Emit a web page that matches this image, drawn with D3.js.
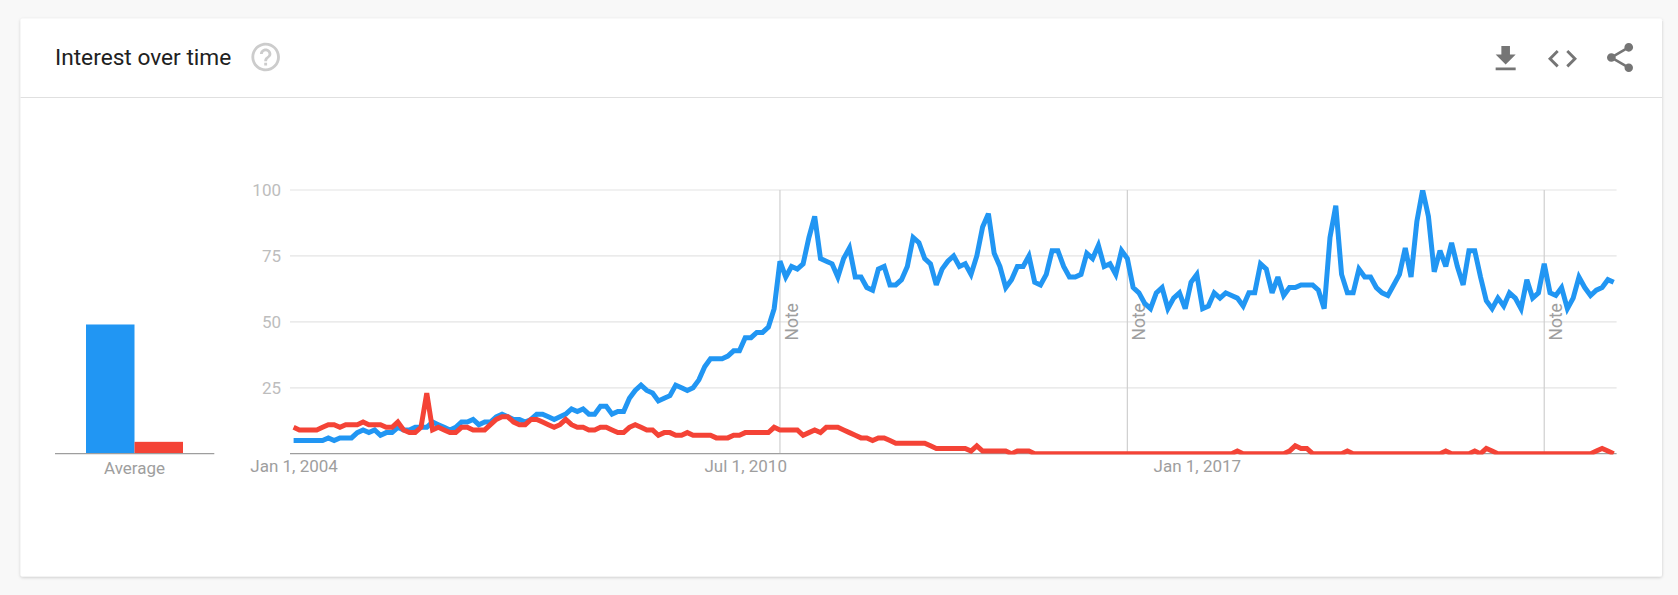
<!DOCTYPE html>
<html>
<head>
<meta charset="utf-8">
<script src="https://cdn.jsdelivr.net/npm/d3@7"></script>
<style>
html,body{margin:0;padding:0;background:#f8f8f8;overflow:hidden}
svg{display:block;font-family:Roboto,sans-serif}
.domain{display:none}
</style>
</head>
<body>
<div id="chart"></div>
<script>
const blueValues = [
5,5,5,5,5,5,6,5,6,6,
6,8,9,8,9,7,8,8,10,9,
9,10,10,10,12,11,10,9,10,12,
12,13,11,12,12,14,15,14,13,13,
12,13,15,15,14,13,14,15,17,16,
17,15,15,18,18,15,16,16,21,24,
26,24,23,20,21,22,26,25,24,25,
28,33,36,36,36,37,39,39,44,44,
46,46,48,55,73,67,71,70,72,82,
90,74,73,72,67,74,78,67,67,63,
62,70,71,64,64,66,71,82,80,74,
72,64,70,73,75,71,72,68,75,86,
91,76,71,63,66,71,71,75,65,64,
68,77,77,71,67,67,68,76,74,79,
71,72,68,77,74,63,61,57,55,61,
63,55,59,61,55,65,68,55,56,61,
59,61,60,59,56,61,61,72,70,61,
67,60,63,63,64,64,64,62,55,82,
94,68,61,61,70,67,67,63,61,60,
64,68,78,67,88,100,90,69,77,71,
80,71,64,77,77,67,58,55,59,56,
61,59,55,66,59,61,72,61,60,63,
55,59,67,63,60,62,63,66,65];
const redValues = [
10,9,9,9,9,10,11,11,10,11,
11,11,12,11,11,11,10,10,12,9,
8,8,10,23,9,10,9,8,8,10,
10,9,9,9,11,13,14,14,12,11,
11,13,13,12,11,10,11,13,11,10,
10,9,9,10,10,9,8,8,10,11,
10,9,9,7,8,8,7,7,8,7,
7,7,7,6,6,6,7,7,8,8,
8,8,8,10,9,9,9,9,7,8,
9,8,10,10,10,9,8,7,6,6,
5,6,6,5,4,4,4,4,4,4,
3,2,2,2,2,2,2,1,3,1,
1,1,1,1,0,1,1,1,0,0,
0,0,0,0,0,0,0,0,0,0,
0,0,0,0,0,0,0,0,0,0,
0,0,0,0,0,0,0,0,0,0,
0,0,0,1,0,0,0,0,0,0,
0,0,1,3,2,2,0,0,0,0,
0,0,1,0,0,0,0,0,0,0,
0,0,0,0,0,0,0,0,0,1,
0,0,0,0,1,0,2,1,0,0,
0,0,0,0,0,0,0,0,0,0,
0,0,0,0,0,1,2,1,0];
const averageNames = ["blue","red"];
const averageValues = [49,4.5];
const yTicks = [25,50,75,100];
const xTickMonths = [0,78,156];
const xTickLabels = ["Jan 1, 2004","Jul 1, 2010","Jan 1, 2017"];
const noteMonths = [84,144,216];
const BLUE="#2196f3", RED="#f44336";

const W=1678,H=595;
const svg=d3.select("#chart").append("svg").attr("width",W).attr("height",H);
const defs=svg.append("defs");
const f=defs.append("filter").attr("id","sh").attr("x","-2%").attr("y","-2%").attr("width","104%").attr("height","104%");
f.append("feDropShadow").attr("dx",0).attr("dy",1).attr("stdDeviation",1.5).attr("flood-color","#000").attr("flood-opacity",0.2);
svg.append("rect").attr("x",20.5).attr("y",18.5).attr("width",1641.5).attr("height",558).attr("rx",2).attr("fill","#fff").attr("filter","url(#sh)");
svg.append("line").attr("x1",20.5).attr("x2",1662).attr("y1",97.5).attr("y2",97.5).attr("stroke","#e0e0e0").attr("stroke-width",1.2);

svg.append("text").attr("x",55).attr("y",65).attr("font-size",22.7).attr("fill","#212121").text("Interest over time");

const icon=(d,tx,ty,s,fill)=>svg.append("path").attr("d",d).attr("transform",`translate(${tx},${ty}) scale(${s})`).attr("fill",fill);
icon("M11 18h2v-2h-2v2zm1-16C6.48 2 2 6.48 2 12s4.48 10 10 10 10-4.48 10-10S17.52 2 12 2zm0 18c-4.41 0-8-3.59-8-8s3.59-8 8-8 8 3.59 8 8-3.59 8-8 8zm0-14c-2.21 0-4 1.79-4 4h2c0-1.1.9-2 2-2s2 .9 2 2c0 2-3 1.75-3 5h2c0-2.25 3-2.5 3-5 0-2.21-1.79-4-4-4z",248.5,39.8,1.43,"#cccccc");
icon("M19 9h-4V3H9v6H5l7 7 7-7zM5 18v2h14v-2H5z",1488.5,41.7,1.43,"#757575");
icon("M9.4 16.6L4.8 12l4.6-4.6L8 6l-6 6 6 6 1.4-1.4zm5.2 0l4.6-4.6-4.6-4.6L16 6l6 6-6 6-1.4-1.4z",1545.1,41.3,1.45,"#757575");
icon("M18 16.08c-.76 0-1.44.3-1.96.77L8.91 12.7c.05-.23.09-.46.09-.7s-.04-.47-.09-.7l7.05-4.11c.54.5 1.25.81 2.04.81 1.66 0 3-1.34 3-3s-1.34-3-3-3-3 1.34-3 3c0 .24.04.47.09.7L8.04 9.81C7.5 9.31 6.79 9 6 9c-1.66 0-3 1.34-3 3s1.34 3 3 3c.79 0 1.5-.31 2.04-.81l7.12 4.16c-.05.21-.08.43-.08.65 0 1.61 1.31 2.92 2.92 2.92 1.61 0 2.92-1.31 2.92-2.92s-1.31-2.92-2.92-2.92z",1602.65,40.1,1.45,"#757575");

const y=d3.scaleLinear().domain([0,100]).range([453.7,190]);
const x=d3.scaleLinear().domain([0,228]).range([293.6,1613.7]);
const gridLeft=290,gridRight=1616.6;

// y axis with gridlines
const gy=svg.append("g").attr("transform",`translate(${gridLeft},0)`)
  .call(d3.axisLeft(y).tickValues(yTicks).tickSize(0).tickPadding(9));
gy.selectAll("text").attr("font-size",17).attr("font-family","Roboto").attr("fill","#bdbdbd");
svg.append("g").selectAll("line").data(yTicks).join("line")
  .attr("x1",gridLeft).attr("x2",gridRight).attr("y1",d=>y(d)).attr("y2",d=>y(d))
  .attr("stroke","#e4e4e4").attr("stroke-width",1.2);

// notes
svg.append("g").selectAll("line").data(noteMonths).join("line")
  .attr("x1",d=>x(d)).attr("x2",d=>x(d)).attr("y1",y(100)).attr("y2",y(0))
  .attr("stroke","#cfcfcf").attr("stroke-width",1.2);
svg.append("g").selectAll("text").data(noteMonths).join("text")
  .attr("transform",d=>`translate(${x(d)+18},${y(50)}) rotate(-90)`)
  .attr("text-anchor","middle").attr("font-size",17.5).attr("fill","#9e9e9e").text("Note");

// baseline & x axis labels
svg.append("line").attr("x1",gridLeft).attr("x2",gridRight).attr("y1",y(0)).attr("y2",y(0)).attr("stroke","#9e9e9e").attr("stroke-width",1.3);
const gx=svg.append("g").attr("transform",`translate(0,${y(0)})`)
  .call(d3.axisBottom(x).tickValues(xTickMonths).tickFormat((d,i)=>xTickLabels[i]).tickSize(0).tickPadding(6));
gx.selectAll("text").attr("font-size",17).attr("font-family","Roboto").attr("fill","#9e9e9e");

// lines
defs.append("clipPath").attr("id","plot").append("rect").attr("x",280).attr("y",y(100)).attr("width",1345).attr("height",y(0)-y(100)+0.8);
const line=d3.line().x((d,i)=>x(i)).y(d=>y(d));
const plot=svg.append("g").attr("clip-path","url(#plot)");
[[blueValues,BLUE],[redValues,RED]].forEach(([vals,c])=>{
  plot.append("path").datum(vals).attr("d",line).attr("fill","none").attr("stroke",c).attr("stroke-width",5).attr("stroke-linejoin","miter").attr("stroke-miterlimit",3);
});

// average bars
const bx=d3.scaleBand().domain(averageNames).range([86,183]);
svg.append("g").selectAll("rect").data(averageNames).join("rect")
  .attr("x",d=>bx(d)).attr("width",bx.bandwidth())
  .attr("y",(d,i)=>y(averageValues[i])).attr("height",(d,i)=>y(0)-y(averageValues[i]))
  .attr("fill",(d,i)=>[BLUE,RED][i]);
svg.append("line").attr("x1",55).attr("x2",214.3).attr("y1",y(0)).attr("y2",y(0)).attr("stroke","#9e9e9e").attr("stroke-width",1.3);
svg.append("text").attr("x",134.5).attr("y",y(0)+20).attr("text-anchor","middle").attr("font-size",17).attr("fill","#9e9e9e").text("Average");
</script>
</body>
</html>
